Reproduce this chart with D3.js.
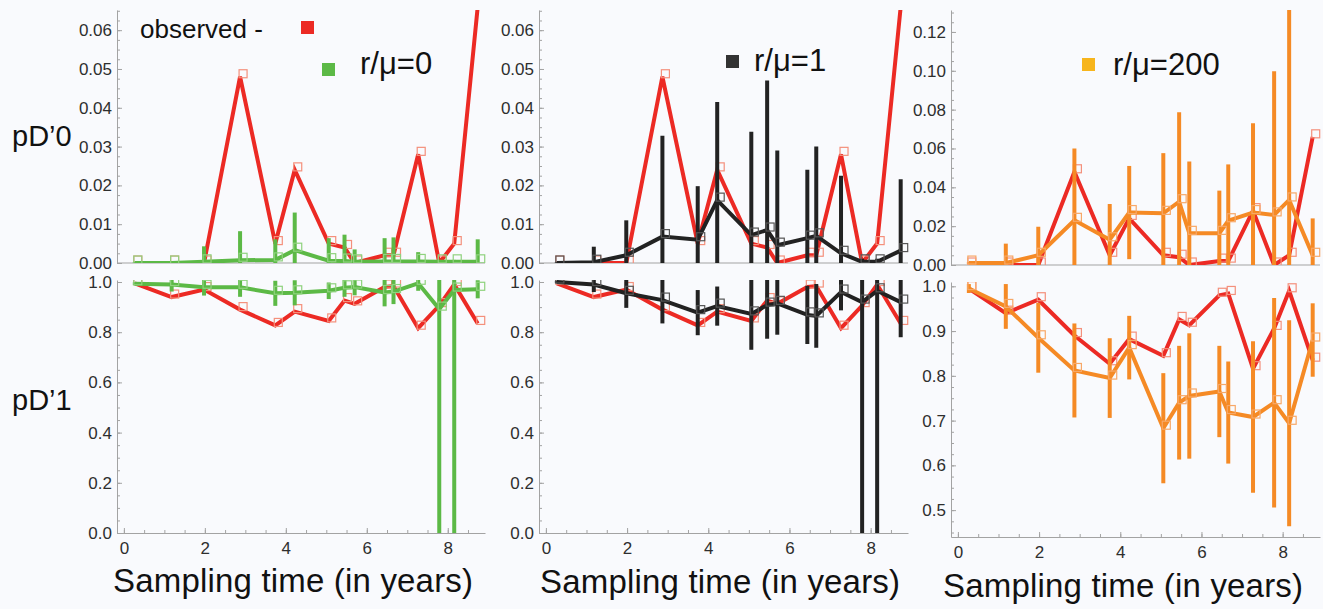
<!DOCTYPE html>
<html>
<head>
<meta charset="utf-8">
<script src="https://cdn.jsdelivr.net/npm/d3@7"></script>
<style>
  body { margin: 0; background: #f9fafd; }
  text { font-family: "Liberation Sans", Arial, sans-serif; }
</style>
</head>
<body>
<svg id="chart" width="1323" height="609"></svg>
<script>
// sampling times (years)
const times = [0.27, 1.18, 1.98, 2.87, 3.74, 4.22, 5.06, 5.45, 5.70, 6.44, 6.66, 7.27, 7.79, 8.16, 8.74];

// observed values
const observedD0 = [0, 0, 0, 0.048, 0.005, 0.024, 0.005, 0.004, 0.0, 0.002, 0.002, 0.028, 0.0, 0.005, 0.066];
const observedD1 = [0.995, 0.94, 0.97, 0.89, 0.827, 0.882, 0.845, 0.926, 0.913, 0.98, 0.984, 0.816, 0.906, 0.99, 0.835];

// r/mu = 0
const r0D0 = [0, 0, 0.0003, 0.0007, 0.0008, 0.0033, 0.0006, 0.0005, 0.0003, 0.0004, 0.0004, 0.0004, 0.0003, 0.0003, 0.0003];
const r0D0err = [0.0003, 0.0004, 0.0040, 0.0075, 0.0053, 0.0097, 0.0058, 0.0068, 0.0032, 0.0060, 0.0062, 0.0024, 0.0005, 0.0005, 0.0058];
const r0D1 = [0.993, 0.99, 0.979, 0.979, 0.955, 0.957, 0.965, 0.977, 0.98, 0.958, 0.962, 0.995, 0.892, 0.968, 0.971];
const r0D1err = [0.006, 0.028, 0.033, 0.038, 0.05, 0.05, 0.033, 0.036, 0.033, 0.055, 0.05, 0.03, 1.0, 1.0, 0.036];

// r/mu = 1
const r1D0 = [0, 0.0002, 0.002, 0.0068, 0.006, 0.0162, 0.0072, 0.0085, 0.0046, 0.0064, 0.007, 0.0025, 0.0003, 0.0003, 0.0032];
const r1D0err = [0.0003, 0.004, 0.009, 0.026, 0.0138, 0.0253, 0.0266, 0.0385, 0.0244, 0.0176, 0.023, 0.02, 0.0008, 0.0008, 0.0184];
const r1D1 = [1.0, 0.99, 0.955, 0.928, 0.878, 0.904, 0.873, 0.908, 0.915, 0.869, 0.865, 0.96, 0.92, 0.965, 0.92];
const r1D1err = [0.005, 0.03, 0.058, 0.093, 0.09, 0.078, 0.143, 0.134, 0.125, 0.116, 0.127, 0.073, 1.0, 1.0, 0.14];

// r/mu = 200
const r200D0 = [0.001, 0.001, 0.005, 0.023, 0.013, 0.027, 0.0266, 0.0326, 0.0163, 0.0163, 0.0228, 0.027, 0.0258, 0.0335, 0.005];
const r200D0err = [0.0005, 0.010, 0.0147, 0.037, 0.0184, 0.024, 0.031, 0.046, 0.037, 0.022, 0.029, 0.046, 0.074, 0.1, 0.019];
const r200D1 = [0.995, 0.955, 0.885, 0.812, 0.795, 0.863, 0.683, 0.74, 0.755, 0.765, 0.718, 0.708, 0.74, 0.694, 0.88];
const r200D1err = [0.01, 0.05, 0.078, 0.105, 0.089, 0.071, 0.123, 0.127, 0.14, 0.102, 0.114, 0.169, 0.234, 0.23, 0.082];

const xTicks = [0, 2, 4, 6, 8];
const legendLabels = ["r/\u03bc=0", "r/\u03bc=1", "r/\u03bc=200"];

const RED = "#ec2a24", RED_MK = "#f4907c";
const xDomain = [-0.17, 8.92];

const svg = d3.select("#chart");

// one column = top (pD'0) + bottom (pD'1)
const columns = [
  { x: [117, 485], color: "#5cb946", mk: "#8fd27e",
    top: { y: [263, 10], dom: [0, 0.0652], step: 0.01, minor: 0.0025, fmt: ".2f", mean: r0D0, err: r0D0err },
    bot: { y: [533, 280], dom: [0, 1.008], step: 0.2, minor: 0.05, fmt: ".1f", mean: r0D1, err: r0D1err },
    title: [113, 592], legend: { sx: 322, sy: 63, tx: 360, ty: 74, fill: "#5cb946" } },
  { x: [539, 908], color: "#222222", mk: "#555555",
    top: { y: [263, 10], dom: [0, 0.0652], step: 0.01, minor: 0.0025, fmt: ".2f", mean: r1D0, err: r1D0err },
    bot: { y: [533, 280], dom: [0, 1.008], step: 0.2, minor: 0.05, fmt: ".1f", mean: r1D1, err: r1D1err },
    title: [540, 593], legend: { sx: 726, sy: 55, tx: 754, ty: 71, fill: "#333333" } },
  { x: [951, 1320], color: "#f58a25", mk: "#f7a868",
    top: { y: [265, 10], dom: [0, 0.1313], step: 0.02, minor: 0.005, fmt: ".2f", mean: r200D0, err: r200D0err },
    bot: { y: [537, 282], dom: [0.44, 1.0096], step: 0.1, minor: 0.025, fmt: ".1f", mean: r200D1, err: r200D1err },
    title: [943, 597], legend: { sx: 1082, sy: 58, tx: 1113, ty: 75, fill: "#f7b51c" } }
];

let clipId = 0;

function drawPanel(col, p, obs, isBottom) {
  const x = d3.scaleLinear().domain(xDomain).range(col.x);
  const y = d3.scaleLinear().domain(p.dom).range(p.y);
  const g = svg.append("g");

  // y axis: major + minor ticks pointing inward
  const majors = d3.range(Math.ceil(p.dom[0] / p.step - 1e-9) * p.step, p.dom[1] + 1e-9, p.step);
  const minors = d3.range(Math.ceil(p.dom[0] / p.minor - 1e-9) * p.minor, p.dom[1] + 1e-9, p.minor);
  g.append("g").attr("transform", `translate(${col.x[0]},0)`)
    .call(d3.axisLeft(y).tickValues(minors).tickSizeInner(-3).tickSizeOuter(0).tickFormat(""))
    .call(a => a.selectAll("line,path").attr("stroke", "#a3a3a3"));
  g.append("g").attr("transform", `translate(${col.x[0]},0)`)
    .call(d3.axisLeft(y).tickValues(majors).tickSizeInner(-5).tickSizeOuter(0).tickPadding(5).tickFormat(d3.format(p.fmt)))
    .call(a => a.select(".domain").remove())
    .call(a => a.selectAll("line").attr("stroke", "#a3a3a3"))
    .call(a => a.selectAll("text").attr("font-size", 17).attr("fill", "#2e2e2e")
      .attr("font-family", "Liberation Sans, Arial, sans-serif"));

  // x axis
  if (isBottom) {
    g.append("g").attr("transform", `translate(0,${p.y[0]})`)
      .call(d3.axisBottom(x).tickValues(d3.range(0, 8.6, 0.5)).tickSizeInner(-3).tickSizeOuter(0).tickFormat(""))
      .call(a => a.selectAll("line,path").attr("stroke", "#a3a3a3"));
    g.append("g").attr("transform", `translate(0,${p.y[0]})`)
      .call(d3.axisBottom(x).tickValues(xTicks).tickSizeInner(-5).tickSizeOuter(0).tickPadding(9).tickFormat(d3.format("d")))
      .call(a => a.select(".domain").remove())
      .call(a => a.selectAll("line").attr("stroke", "#a3a3a3"))
      .call(a => a.selectAll("text").attr("font-size", 17).attr("fill", "#2e2e2e")
        .attr("font-family", "Liberation Sans, Arial, sans-serif"));
  } else {
    g.append("line").attr("x1", col.x[0]).attr("x2", col.x[1])
      .attr("y1", p.y[0]).attr("y2", p.y[0]).attr("stroke", "#a3a3a3");
  }

  // clip to plot area
  const id = "clip" + (clipId++);
  svg.append("clipPath").attr("id", id).append("rect")
    .attr("x", col.x[0]).attr("y", p.y[1])
    .attr("width", col.x[1] - col.x[0] + 4).attr("height", p.y[0] - p.y[1]);
  const plot = g.append("g").attr("clip-path", `url(#${id})`);

  const line = d3.line().x(d => x(d[0])).y(d => y(d[1]));

  // observed series
  plot.append("path").datum(d3.zip(times, obs)).attr("d", line)
    .attr("fill", "none").attr("stroke", RED).attr("stroke-width", 4).attr("stroke-linejoin", "miter");
  plot.selectAll(".omk").data(d3.zip(times, obs)).join("rect")
    .attr("x", d => x(d[0]) - 1).attr("y", d => y(d[1]) - 7)
    .attr("width", 8).attr("height", 8)
    .attr("fill", "none").attr("stroke", RED_MK).attr("stroke-width", 1.2);

  // model error bars, line and markers
  const pts = times.map((t, i) => ({ t, m: p.mean[i], e: p.err[i] }));
  plot.selectAll(".bar").data(pts).join("line")
    .attr("x1", d => x(d.t)).attr("x2", d => x(d.t))
    .attr("y1", d => y(d.m - d.e)).attr("y2", d => y(d.m + d.e))
    .attr("stroke", col.color).attr("stroke-width", 4);
  plot.append("path").datum(pts.map(d => [d.t, d.m])).attr("d", line)
    .attr("fill", "none").attr("stroke", col.color).attr("stroke-width", 4);
  plot.selectAll(".mmk").data(pts).join("rect")
    .attr("x", d => x(d.t) - 1).attr("y", d => y(d.m) - 7)
    .attr("width", 8).attr("height", 8)
    .attr("fill", "none").attr("stroke", col.mk).attr("stroke-width", 1.2);
}

columns.forEach((col, i) => {
  drawPanel(col, col.top, observedD0, false);
  drawPanel(col, col.bot, observedD1, true);

  // x axis title
  svg.append("text").attr("x", col.title[0]).attr("y", col.title[1])
    .attr("font-size", 33).attr("fill", "#111").attr("textLength", 360)
    .text("Sampling time (in years)");

  // legend entry
  const L = col.legend;
  svg.append("rect").attr("x", L.sx).attr("y", L.sy).attr("width", 13).attr("height", 13).attr("fill", L.fill);
  svg.append("text").attr("x", L.tx).attr("y", L.ty).attr("font-size", 31).attr("fill", "#111")
    .text(legendLabels[i]);
});

// observed legend
svg.append("text").attr("x", 140).attr("y", 38).attr("font-size", 26).attr("fill", "#111").text("observed  -");
svg.append("rect").attr("x", 301).attr("y", 21).attr("width", 13).attr("height", 13).attr("fill", RED);

// row titles
svg.append("text").attr("x", 12).attr("y", 146).attr("font-size", 29).attr("fill", "#111").text("pD\u20190");
svg.append("text").attr("x", 12).attr("y", 410).attr("font-size", 29).attr("fill", "#111").text("pD\u20191");
</script>
</body>
</html>
